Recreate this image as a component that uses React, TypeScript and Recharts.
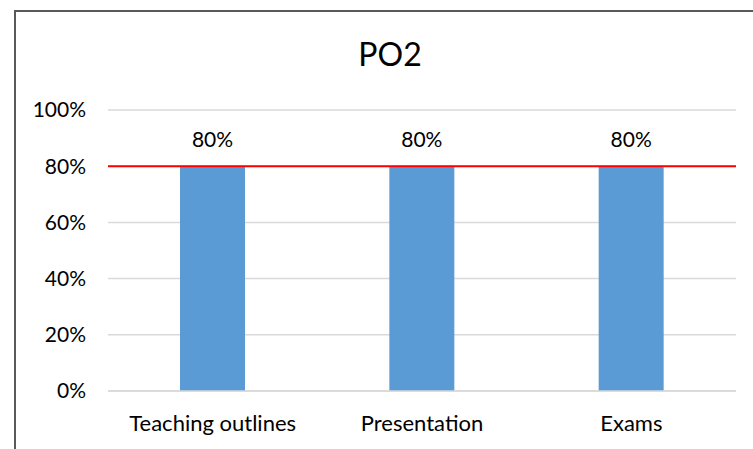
import React from "react";
import { BarChart, Bar, XAxis, YAxis, CartesianGrid, ReferenceLine, LabelList } from "recharts";

const categories = ["Teaching outlines", "Presentation", "Exams"];
const values = [0.8, 0.8, 0.8];
const target = 0.8;
const yTicks = [0, 0.2, 0.4, 0.6, 0.8, 1];
const title = "PO2";

const data = categories.map((name, i) => ({ name, value: values[i] }));
const FONT = "Lato, 'Open Sans', sans-serif";
const pct = (v: number) => `${Math.round(v * 100)}%`;

export default function App() {
  return (
    <div style={{ position: "absolute", left: 0, top: 0, width: 753, height: 449, background: "#fff", overflow: "hidden", fontFamily: FONT }}>
      <div style={{ position: "absolute", left: 14, top: 10, width: 800, height: 500, border: "2px solid #595959", boxSizing: "border-box" }} />
      <div style={{ position: "absolute", left: 290, width: 200, top: 34, textAlign: "center", fontSize: 32, color: "#000", lineHeight: "40px" }}>{title}</div>
      <div style={{ position: "absolute", left: 0, top: 0 }}>
        <BarChart width={753} height={449} data={data} margin={{ top: 110, right: 17, left: 0, bottom: 0 }}>
          <CartesianGrid vertical={false} stroke="#d9d9d9" strokeWidth={1.5} />
          <XAxis
            dataKey="name"
            height={58}
            tickLine={false}
            tickSize={0}
            tickMargin={24}
            axisLine={{ stroke: "#d9d9d9", strokeWidth: 1.5 }}
            tick={{ fill: "#000", fontSize: 22, fontFamily: FONT }}
          />
          <YAxis
            width={108}
            domain={[0, 1]}
            ticks={yTicks}
            tickFormatter={pct}
            axisLine={false}
            tickLine={false}
            tickSize={0}
            tickMargin={22}
            tick={{ fill: "#000", fontSize: 21, fontFamily: FONT }}
          />
          <Bar dataKey="value" fill="#5b9bd5" barSize={65} isAnimationActive={false}>
            <LabelList dataKey="value" position="top" offset={19} formatter={(v: any) => pct(Number(v))} fill="#000" fontSize={21} fontFamily={FONT} />
          </Bar>
          <ReferenceLine y={target} stroke="#ff0000" strokeWidth={2} ifOverflow="extendDomain" />
        </BarChart>
      </div>
    </div>
  );
}
